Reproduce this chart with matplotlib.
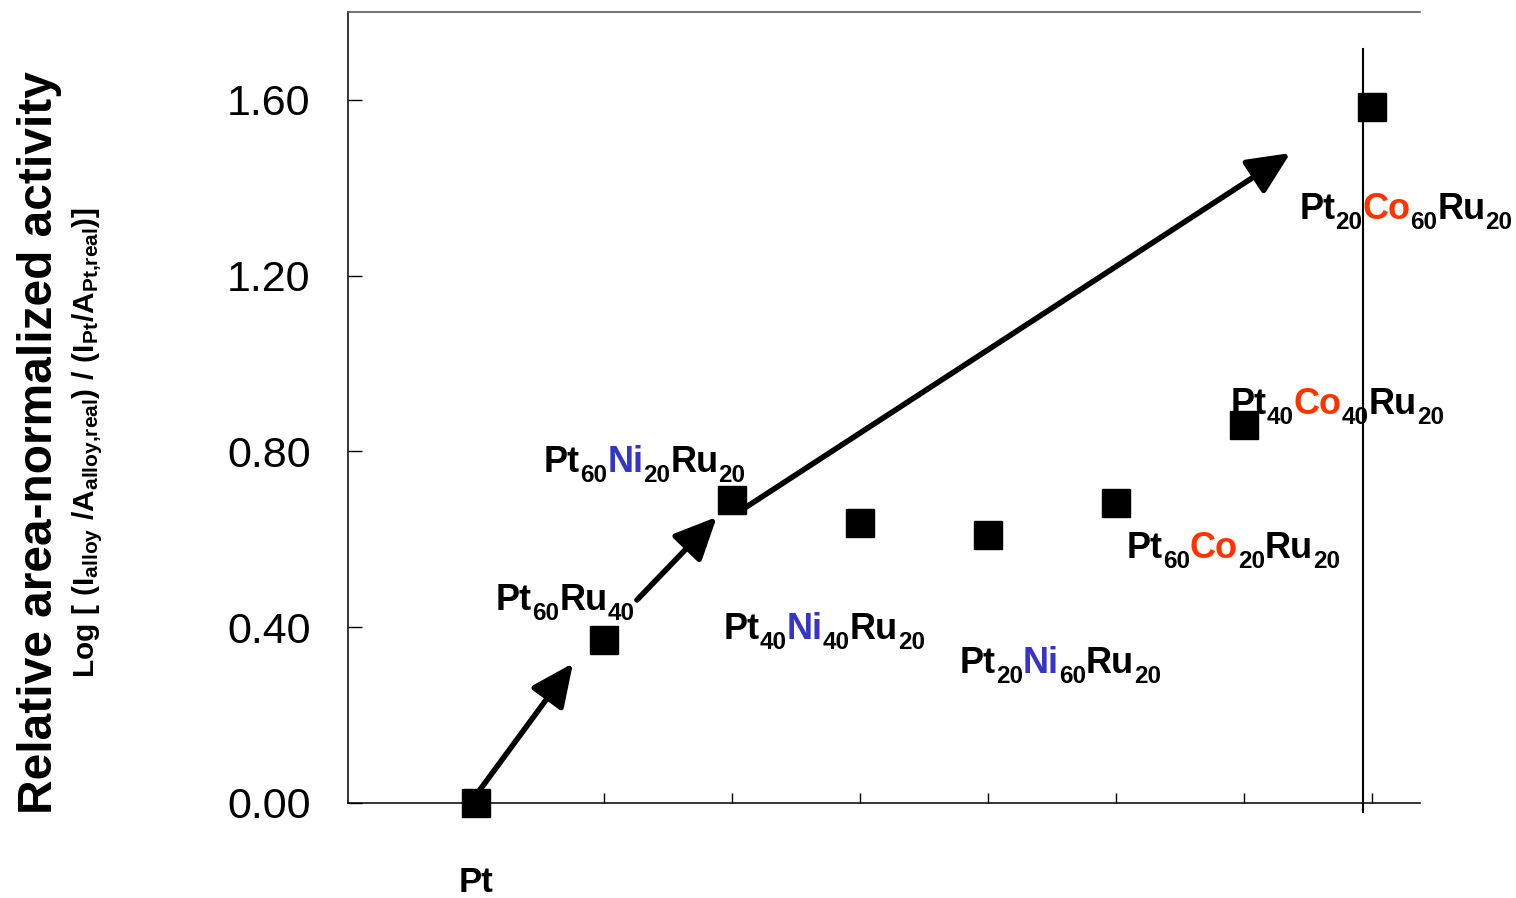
import matplotlib
matplotlib.use('Agg')
import matplotlib.pyplot as plt

plt.rcParams['font.family'] = ['Liberation Sans', 'DejaVu Sans']
plt.rcParams['mathtext.fontset'] = 'custom'
plt.rcParams['mathtext.rm'] = 'Liberation Sans:bold'
plt.rcParams['mathtext.it'] = 'Liberation Sans:bold'
plt.rcParams['mathtext.bf'] = 'Liberation Sans:bold'
plt.rcParams['mathtext.default'] = 'rm'

# data
x_pos = [1, 2, 3, 4, 5, 6, 7, 8]
activity = [0.00, 0.37, 0.69, 0.637, 0.61, 0.682, 0.86, 1.583]

y_ticks = [0.0, 0.4, 0.8, 1.2, 1.6]
y_ticklabels = ['0.00', '0.40', '0.80', '1.20', '1.60']

# composition labels: elements, subscripts, anchor (left, baseline) in data coords
label_elems = [['Pt', 'Ru'], ['Pt', 'Ni', 'Ru'], ['Pt', 'Ni', 'Ru'], ['Pt', 'Ni', 'Ru'],
               ['Pt', 'Co', 'Ru'], ['Pt', 'Co', 'Ru'], ['Pt', 'Co', 'Ru']]
label_subs = [['60', '40'], ['60', '20', '20'], ['40', '40', '20'], ['20', '60', '20'],
              ['60', '20', '20'], ['40', '40', '20'], ['20', '60', '20']]
label_x = [1.156, 1.531, 2.936, 4.778, 6.082, 6.894, 7.432]
label_y = [0.439, 0.753, 0.373, 0.296, 0.557, 0.885, 1.328]
elem_color = {'Pt': 'black', 'Ru': 'black', 'Ni': '#3535c8', 'Co': '#ff3300'}

# arrows: (tail x, tail y, tip x, tip y)
arrow_tail_x = [1.0, 2.257, 3.108]
arrow_tail_y = [0.018, 0.462, 0.673]
arrow_tip_x = [1.757, 2.881, 7.362]
arrow_tip_y = [0.318, 0.651, 1.479]

fig = plt.figure(figsize=(15.16, 8.98), dpi=100)
ax = fig.add_axes([0.2296, 0.1058, 0.9367 - 0.2296, 0.9866 - 0.1058])

for i in range(len(arrow_tail_x)):
    ax.annotate('', xy=(arrow_tip_x[i], arrow_tip_y[i]),
                xytext=(arrow_tail_x[i], arrow_tail_y[i]),
                arrowprops=dict(arrowstyle='-|>,head_length=1.3,head_width=0.6',
                                mutation_scale=20, lw=4, color='black',
                                shrinkA=0, shrinkB=0), zorder=3)

ax.plot(x_pos, activity, 's', color='black', markersize=20, zorder=5, clip_on=False)

# vertical line near the last point
ax.plot([7.93, 7.93], [-0.02, 1.717], color='black', lw=1.5, clip_on=False, zorder=4)

ax.set_xlim(0, 8.375)
ax.set_ylim(0, 1.8)
ax.set_yticks(y_ticks)
ax.set_yticklabels(y_ticklabels, fontsize=31)
ax.set_xticks(x_pos)
ax.tick_params(axis='y', direction='in', length=10, width=1, pad=27)
ax.tick_params(axis='x', direction='in', length=7, width=1, labelbottom=False)
ax.spines['right'].set_visible(False)
ax.spines['top'].set_color('0.3')
for s in ['left', 'bottom', 'top']:
    ax.spines[s].set_linewidth(1.1)

# composition labels, built piece by piece
main_fs, sub_fs = 26, 17.5
for elems, subs, lx, ly in zip(label_elems, label_subs, label_x, label_y):
    prev = None
    for el, sb in zip(elems, subs):
        if prev is None:
            prev = ax.text(lx, ly, el, fontsize=main_fs, fontweight='bold',
                           color=elem_color[el], ha='left', va='baseline', zorder=6)
        else:
            prev = ax.annotate(el, xy=(1, ly), xycoords=(prev, 'data'),
                               fontsize=main_fs, fontweight='bold', color=elem_color[el],
                               ha='left', va='baseline', zorder=6)
        prev = ax.annotate(sb, xy=(1, ly), xycoords=(prev, 'data'),
                           xytext=(0, -7), textcoords='offset points',
                           fontsize=sub_fs, fontweight='bold', color='black',
                           ha='left', va='baseline', zorder=6)

ax.text(1, -0.203, 'Pt', fontsize=25, fontweight='bold', ha='center', va='baseline',
        clip_on=False)

fig.text(0.026, 0.507, 'Relative area-normalized activity', rotation=90,
         fontsize=34.5, fontweight='bold', ha='center', va='center')
fig.text(0.058, 0.507,
         r'$Log\ [\ (I_{alloy}\ /A_{alloy{,}real})\ /\ (I_{Pt}/A_{Pt{,}real})]$',
         rotation=90, fontsize=21.5, ha='center', va='center')

fig.savefig('out.png', dpi=100)
